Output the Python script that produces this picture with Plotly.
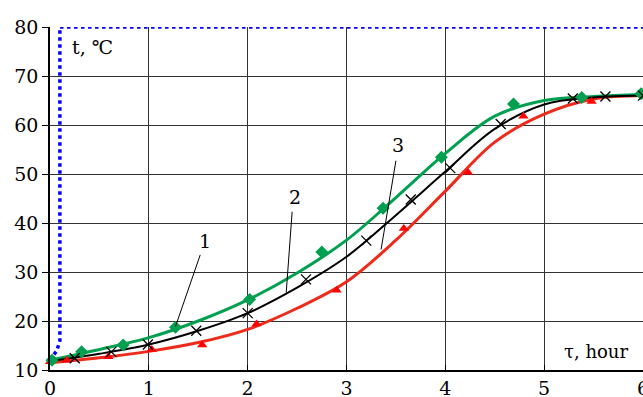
import plotly.graph_objects as go

# measured points (markers)
green_x = [0.02, 0.32, 0.74, 1.27, 2.02, 2.75, 3.37, 3.96, 4.69, 5.38, 5.98]
green_y = [12.0, 13.7, 15.1, 18.7, 24.4, 34.1, 43.0, 53.4, 64.3, 65.6, 66.4]
black_x = [0.25, 0.62, 0.99, 1.48, 2.0, 2.59, 3.2, 3.65, 4.05, 4.56, 5.29, 5.62, 6.0]
black_y = [12.4, 13.7, 15.2, 18.0, 21.6, 28.5, 36.4, 44.8, 51.2, 60.2, 65.4, 65.8, 66.0]
red_x = [0.0, 0.17, 0.59, 1.03, 1.54, 2.09, 2.9, 3.58, 4.23, 4.79, 5.48, 5.98]
red_y = [11.7, 12.0, 12.7, 14.2, 15.1, 19.4, 26.3, 38.9, 50.3, 61.8, 64.8, 66.4]

# fitted curves
curve_x = [0, 0.5, 1, 1.5, 2, 2.5, 3, 3.5, 4, 4.5, 5, 5.5, 6]
green_curve = [12.0, 14.2, 16.6, 20.0, 24.3, 29.8, 36.5, 45.2, 54.2, 61.8, 65.0, 65.8, 66.2]
black_curve = [11.8, 13.3, 15.2, 18.0, 21.6, 26.8, 33.1, 41.6, 50.5, 59.2, 64.2, 65.6, 66.0]
red_curve = [11.5, 12.5, 13.8, 15.6, 18.3, 22.6, 28.0, 36.5, 46.5, 56.5, 62.2, 65.3, 66.0]

# heater temperature (dotted)
blue_x = [0, 0.03, 0.07, 0.1, 0.1, 6.0]
blue_y = [12.0, 12.8, 14.0, 16.0, 80.0, 80.0]

GREEN = "#00a050"
RED = "#ee2a1b"
FONT = "DejaVu Serif"

fig = go.Figure()

fig.add_trace(go.Scatter(x=blue_x, y=blue_y, mode="lines",
                         line=dict(color="#0000ff", width=3.5, dash="dot"),
                         cliponaxis=False))

fig.add_trace(go.Scatter(x=curve_x, y=red_curve, mode="lines",
                         line=dict(color=RED, width=3, shape="spline")))
fig.add_trace(go.Scatter(x=curve_x, y=green_curve, mode="lines",
                         line=dict(color=GREEN, width=3, shape="spline")))
fig.add_trace(go.Scatter(x=curve_x, y=black_curve, mode="lines",
                         line=dict(color="black", width=2, shape="spline")))

fig.add_trace(go.Scatter(x=red_x, y=red_y, mode="markers", cliponaxis=False,
                         marker=dict(symbol="triangle-up", size=9, color="#ff0000")))
fig.add_trace(go.Scatter(x=green_x, y=green_y, mode="markers", cliponaxis=False,
                         marker=dict(symbol="diamond", size=10, color=GREEN)))
fig.add_trace(go.Scatter(x=black_x, y=black_y, mode="markers", cliponaxis=False,
                         marker=dict(symbol="x-thin", size=10,
                                     line=dict(color="black", width=1.3))))

# curve labels with leader lines
labels = [("1", 1.57, 36.3, 1.52, 33.5, 1.27, 18.9),
          ("2", 2.48, 45.4, 2.45, 42.3, 2.39, 25.8),
          ("3", 3.52, 56.0, 3.5, 52.7, 3.35, 34.6)]
for txt, tx, ty, x0, y0, x1, y1 in labels:
    fig.add_shape(type="line", x0=x0, y0=y0, x1=x1, y1=y1,
                  line=dict(color="black", width=1))
    fig.add_annotation(x=tx, y=ty, text=txt, showarrow=False,
                       font=dict(size=19, color="black", family=FONT))

fig.add_annotation(x=0.2, y=76, text="t, ℃", showarrow=False, xanchor="left",
                   font=dict(size=19, color="black", family=FONT))
fig.add_annotation(x=5.87, y=13.7, text="τ, hour", showarrow=False, xanchor="right",
                   font=dict(size=18, color="black", family=FONT))

fig.update_layout(
    width=643, height=397,
    margin=dict(l=50, r=0, t=27, b=27, autoexpand=False),
    plot_bgcolor="white", paper_bgcolor="white",
    showlegend=False,
    font=dict(family=FONT, size=19, color="black"),
)
fig.update_xaxes(range=[0, 6], dtick=1, showgrid=True, gridcolor="#333333", gridwidth=1,
                 showline=True, linecolor="black", linewidth=1.5, automargin=False,
                 ticks="inside", ticklen=5, tickcolor="black", zeroline=False,
                 ticklabeloverflow="allow", tickfont=dict(family=FONT, size=19))
fig.update_yaxes(range=[10, 80], dtick=10, showgrid=True, gridcolor="#333333", gridwidth=1,
                 showline=True, linecolor="black", linewidth=1.5, automargin=False,
                 ticks="outside", ticklen=6, tickcolor="black", zeroline=False,
                 ticklabeloverflow="allow", tickfont=dict(family=FONT, size=19))

# drop the default page margin so the figure fills the window exactly
fig.write_html("out.html",
               config={"displayModeBar": False},
               post_script="document.body.style.margin='0';"
                           "document.body.style.overflow='hidden';")
